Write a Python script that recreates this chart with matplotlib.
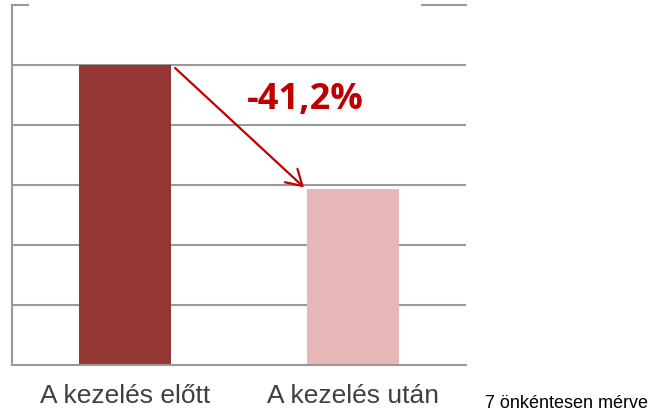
import matplotlib
matplotlib.use("Agg")
import matplotlib.pyplot as plt

categories = ["A kezelés előtt", "A kezelés után"]
values = [5.0, 2.94]
colors = ["#943634", "#E6B9B8"]
change_label = "-41,2%"
note = "7 önkéntesen mérve"
yticks = [1, 2, 3, 4, 5]

W, H = 656, 417
fig = plt.figure(figsize=(W / 100, H / 100), dpi=100)
ax = fig.add_axes([12 / W, (H - 365) / H, 454 / W, 360 / H])

x = list(range(len(categories)))
ax.bar(x, values, width=0.40, color=colors, zorder=2)
ax.set_xlim(-0.495, 1.495)
ax.set_ylim(0, 6)

grid_c = "#999999"
for y in yticks:
    ax.axhline(y, color=grid_c, lw=1.5, zorder=1)
# partially visible top line
ax.plot([-0.495, -0.425], [6, 6], color=grid_c, lw=1.5, clip_on=False, zorder=1)
ax.plot([1.30, 1.495], [6, 6], color=grid_c, lw=1.5, clip_on=False, zorder=1)

for s in ["top", "right"]:
    ax.spines[s].set_visible(False)
for s in ["left", "bottom"]:
    ax.spines[s].set_color(grid_c)
    ax.spines[s].set_linewidth(1.5)

ax.set_yticks([])
ax.set_xticks(x)
ax.set_xticklabels(categories, fontsize=19, color="#404040", family="Liberation Sans")
ax.tick_params(axis="x", length=0, pad=14)

ax.annotate("", xy=(0.785, values[1] + 0.02), xytext=(0.22, values[0] - 0.05),
            arrowprops=dict(arrowstyle="->,head_length=0.5,head_width=0.3", color="#C00000", lw=1.6,
                            mutation_scale=22, shrinkA=0, shrinkB=0), zorder=3)
ax.text(0.79, 4.42, change_label, color="#C00000", fontsize=26, fontweight="bold",
        family="Open Sans", ha="center", va="center", zorder=3)

fig.text(485 / W, 1 - 403 / H, note, fontsize=13, color="#000000",
         family="Liberation Sans", ha="left", va="center")

fig.savefig("out.png", dpi=100)
